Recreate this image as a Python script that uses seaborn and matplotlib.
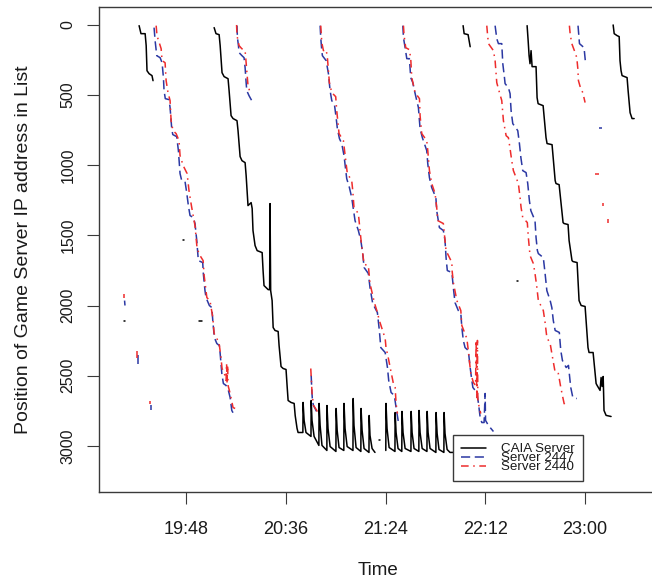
import matplotlib
matplotlib.use("Agg")
import matplotlib.pyplot as plt
from matplotlib.lines import Line2D
import pandas as pd
import seaborn as sns

# time = minutes after midnight, pos = position of the server IP in the list

# CAIA server (solid black)
caia_t1 = [1165.4, 1166.3, 1168.3, 1168.8, 1169.2, 1170.2, 1171.6, 1172.1]
caia_p1 = [5, 62, 62, 147, 326, 347, 361, 397]

caia_t2 = [1201.5, 1202.4, 1203.9, 1204.4, 1205.3, 1206.3, 1208.2, 1208.7, 1209.65, 1210.6,
           1212.5, 1213.0, 1214.0, 1214.9, 1216.4, 1216.9, 1217.8, 1219.3, 1219.8, 1220.2,
           1221.2, 1222.2, 1224.6, 1225.05, 1225.5, 1227.5, 1228.2, 1228.4, 1228.7, 1229.4,
           1229.9, 1230.8, 1232.3, 1232.75, 1233.7, 1234.7, 1236.1, 1236.6, 1237.1, 1238.5,
           1240.0, 1240.5, 1241.4, 1241.9, 1244.2,
           1244.3, 1244.8, 1245.7, 1248.1,
           1248.2, 1248.6, 1249.6, 1251.9,
           1252.0, 1252.5, 1253.4, 1255.75,
           1255.8, 1256.3, 1257.3, 1260.1,
           1260.2, 1260.7, 1261.6, 1263.9,
           1264.0, 1264.5, 1265.5, 1268.3,
           1268.4, 1268.8, 1269.8, 1272.1,
           1272.2, 1272.7, 1273.65, 1276.0,
           1276.1, 1276.5, 1277.5, 1278.9]
caia_p2 = [19, 62, 69, 147, 340, 368, 383, 468, 646, 667,
           682, 753, 938, 967, 981, 1073, 1287, 1266, 1308, 1465,
           1572, 1608, 1622, 1750, 1857, 1886, 1886, 1273, 1893, 1964,
           2156, 2177, 2184, 2284, 2434, 2448, 2455, 2569, 2676, 2690,
           2697, 2783, 2875, 2904, 2904,
           2690, 2818, 2904, 2932,
           2676, 2818, 2932, 2996,
           2697, 2854, 2996, 3032,
           2712, 2875, 3004, 3039,
           2733, 2889, 3011, 3032,
           2697, 2875, 3004, 3032,
           2662, 2854, 3011, 3039,
           2733, 2889, 3018, 3046,
           2783, 2925, 3018, 3046]

caia_t3 = [1284.1, 1284.2, 1284.7, 1285.7, 1288.5,
           1288.6, 1289.05, 1290.0, 1291.8,
           1291.9, 1292.4, 1293.4, 1296.2,
           1296.3, 1296.75, 1297.7, 1300.0,
           1300.1, 1300.6, 1301.6, 1303.9,
           1304.0, 1304.45, 1305.4, 1308.2,
           1308.3, 1308.8, 1309.7, 1312.05,
           1312.15, 1312.6, 1313.6, 1315.0, 1319.85]
caia_p3 = [3032, 2697, 2875, 3011, 3039,
           2762, 2904, 3018, 3039,
           2754, 2904, 3018, 3039,
           2754, 2904, 3018, 3039,
           2747, 2904, 3018, 3039,
           2754, 2904, 3018, 3046,
           2762, 2911, 3025, 3046,
           2762, 2911, 3025, 3046, 3046]

caia_t4 = [1321.3, 1321.8, 1323.7, 1324.7]
caia_p4 = [5, 62, 69, 155]

caia_t5 = [1352.1, 1352.6, 1353.05, 1353.5, 1354.0, 1354.5, 1356.4, 1356.9, 1357.4, 1359.8,
           1361.2, 1361.7, 1364.1, 1365.6, 1366.0, 1367.5, 1369.4, 1369.9, 1371.8, 1372.3,
           1373.7, 1374.2, 1376.15, 1377.1, 1378.1, 1380.0, 1381.4, 1381.9, 1383.85, 1385.3,
           1385.8, 1387.2, 1387.7, 1388.2, 1388.7, 1388.9, 1389.1, 1390.1, 1392.5]
caia_p5 = [5, 112, 219, 276, 183, 297, 297, 518, 561, 575,
           803, 845, 853, 1109, 1130, 1138, 1408, 1415, 1422, 1536,
           1679, 1686, 1693, 1964, 1999, 2006, 2299, 2334, 2334, 2555,
           2569, 2604, 2512, 2576, 2505, 2619, 2747, 2782, 2790]

caia_t6 = [1393.5, 1394.0, 1395.4, 1396.4, 1396.8, 1397.3, 1397.8, 1400.2, 1400.7, 1401.65, 1402.6, 1403.6]
caia_p6 = [0, 62, 76, 83, 254, 326, 361, 375, 468, 625, 667, 667]

caia_dots_t = [[1157.9, 1158.6], [1194.3, 1195.7], [1186.4, 1186.8], [1280.7, 1281.1], [1347.1, 1347.6]]
caia_dots_p = [[2106, 2106], [2113, 2113], [1529, 1529], [2954, 2954], [1821, 1821]]

# Server 2447 (blue dashed)
s47_tA = [1172.6, 1173.1, 1173.9, 1175.5, 1176.45, 1177.1, 1177.4, 1178.0, 1179.8, 1180.3,
          1181.1, 1181.6, 1183.5, 1184.3, 1185.1, 1185.9, 1187.5, 1188.3, 1189.1, 1189.9,
          1191.5, 1192.3, 1193.15, 1193.9, 1196.0, 1196.3, 1197.1, 1197.6, 1199.2, 1200.4,
          1200.85, 1201.6, 1202.8, 1204.0, 1204.4, 1205.2, 1205.95, 1207.25, 1208.35, 1209.2,
          1210.0, 1210.8]
s47_pA = [19, 112, 219, 233, 269, 375, 468, 525, 532, 589,
          739, 781, 796, 895, 1059, 1109, 1116, 1194, 1287, 1358,
          1373, 1415, 1536, 1679, 1693, 1771, 1893, 1943, 1999, 2014,
          2106, 2227, 2270, 2284, 2341, 2484, 2555, 2569, 2604, 2655,
          2747, 2769]
s47_tB = [1212.5, 1212.7, 1213.2, 1213.5, 1214.9, 1215.9, 1216.4, 1216.9, 1217.2, 1218.3, 1219.6]
s47_pB = [5, 90, 147, 197, 219, 233, 304, 411, 468, 504, 539]
s47_tC = [1252.5, 1252.8, 1253.3, 1253.6, 1255.4, 1256.5, 1257.3, 1258.1, 1259.4, 1260.2,
          1260.8, 1261.8, 1262.9, 1264.0, 1265.3, 1266.6, 1267.7, 1269.3, 1270.9, 1272.1,
          1273.0, 1273.65, 1275.7, 1276.5, 1277.8, 1280.05, 1281.0, 1281.7, 1283.8, 1284.9,
          1285.5, 1286.65, 1288.2, 1289.05, 1290.2, 1291.0]
s47_pC = [5, 90, 183, 219, 254, 347, 468, 539, 568, 660,
          739, 810, 845, 931, 1095, 1159, 1230, 1394, 1465, 1536,
          1629, 1728, 1771, 1871, 1985, 2049, 2177, 2299, 2334, 2441,
          2533, 2619, 2640, 2726, 2833, 2833]
s47_tD = [1292.3, 1292.6, 1293.4, 1294.2, 1295.45, 1296.1, 1297.1, 1297.9, 1299.0, 1299.8,
          1300.1, 1300.6, 1301.7, 1303.0, 1303.8, 1304.3, 1305.1, 1306.2, 1308.2, 1308.6,
          1309.9, 1311.8, 1312.6, 1313.1, 1313.7, 1315.9, 1316.6, 1317.4, 1319.0, 1320.2,
          1320.7, 1321.4, 1322.25, 1323.8, 1324.7, 1325.5, 1326.0, 1327.9, 1328.7, 1329.5,
          1330.3, 1331.4, 1331.9, 1332.1, 1333.5, 1335.9]
s47_pD = [5, 90, 162, 240, 240, 375, 411, 468, 539, 589,
          646, 739, 803, 860, 895, 988, 1088, 1159, 1230, 1323,
          1444, 1465, 1536, 1658, 1750, 1764, 1871, 1978, 2035, 2056,
          2156, 2248, 2299, 2320, 2441, 2533, 2583, 2619, 2697, 2796,
          2833, 2833, 2626, 2818, 2854, 2897]
s47_tE = [1336.7, 1337.2, 1337.5, 1338.3, 1339.9, 1340.4, 1341.2, 1341.5, 1343.1, 1343.9,
          1344.4, 1345.2, 1347.6, 1348.4, 1349.1, 1350.0, 1351.6, 1352.4, 1353.2, 1353.9,
          1355.9, 1356.4, 1357.05, 1357.5, 1359.9, 1360.75, 1361.6, 1363.2, 1364.0, 1364.7,
          1365.6, 1367.6, 1368.3, 1369.1, 1370.9, 1372.0, 1372.4, 1373.1, 1374.1, 1376.0]
s47_pE = [5, 62, 98, 133, 133, 276, 375, 418, 447, 489,
          611, 703, 753, 845, 945, 1038, 1052, 1130, 1252, 1323,
          1394, 1515, 1608, 1629, 1658, 1771, 1893, 1964, 2014, 2106,
          2177, 2191, 2320, 2391, 2441, 2426, 2484, 2583, 2655, 2662]
s47_tF = [1376.6, 1377.3, 1379.5, 1380.1]
s47_pF = [5, 133, 162, 254]
s47_frag_t = [[1248.2, 1248.5, 1248.8, 1249.3, 1250.1, 1251.0],
              [1158.4, 1158.6], [1164.75, 1164.75], [1171.0, 1171.0], [1386.6, 1388.0]]
s47_frag_p = [[2498, 2604, 2676, 2711, 2733, 2762],
              [1964, 1999], [2355, 2419], [2711, 2747], [731, 731]]

# Server 2440 (red dot-dash)
s40_tA = [1173.6, 1174.0, 1176.0, 1176.45, 1177.9, 1178.4, 1179.3, 1180.3, 1180.8, 1181.7,
          1183.2, 1184.6, 1185.1, 1186.6, 1188.5, 1189.4, 1190.4, 1191.4, 1192.3, 1193.3,
          1194.7, 1196.2, 1196.7, 1198.0, 1199.5, 1200.85, 1201.5, 1202.8, 1203.9, 1204.8,
          1205.3, 1206.3, 1207.25, 1207.5, 1207.7, 1208.0, 1208.2, 1209.2, 1210.6, 1211.6]
s40_pA = [5, 76, 169, 254, 269, 397, 482, 539, 682, 753,
          774, 824, 931, 1002, 1059, 1180, 1273, 1358, 1430, 1594,
          1643, 1679, 1786, 1943, 1964, 2085, 2199, 2234, 2270, 2370,
          2448, 2476, 2533, 2412, 2548, 2426, 2569, 2626, 2726, 2733]
s40_tB = [1212.3, 1212.5, 1213.5, 1214.8, 1216.4, 1216.9, 1217.4, 1217.8, 1218.8]
s40_pB = [0, 76, 147, 169, 183, 269, 361, 432, 482]
s40_tC = [1252.8, 1253.3, 1254.1, 1255.4, 1256.0, 1256.96, 1258.1, 1260.0, 1260.5, 1261.6,
          1263.7, 1265.0, 1265.6, 1267.7, 1268.2, 1268.8, 1270.9, 1272.2, 1273.65, 1275.7,
          1276.5, 1278.6, 1280.05, 1281.0, 1283.8, 1284.2, 1285.06, 1287.75, 1288.6, 1289.05,
          1289.7]
s40_pC = [5, 126, 183, 176, 233, 411, 482, 511, 611, 774,
          824, 988, 1059, 1109, 1180, 1301, 1344, 1536, 1706, 1714,
          1843, 1978, 2049, 2106, 2234, 2299, 2355, 2555, 2583, 2697,
          2769]
s40_tD = [1292.6, 1292.9, 1293.7, 1295.45, 1296.1, 1296.6, 1298.2, 1300.3, 1300.6, 1301.4,
          1303.8, 1304.3, 1305.1, 1306.2, 1307.8, 1308.6, 1309.1, 1311.8, 1312.6, 1313.1,
          1315.9, 1316.0, 1316.6, 1318.3, 1320.2, 1320.7, 1323.1, 1323.8, 1324.3, 1325.0,
          1326.25, 1327.3, 1327.55, 1327.9, 1328.2, 1328.4, 1329.1, 1329.8]
s40_pD = [5, 76, 162, 176, 240, 375, 482, 525, 646, 774,
          824, 895, 1038, 1130, 1201, 1301, 1394, 1415, 1536, 1608,
          1693, 1750, 1835, 1964, 2035, 2142, 2234, 2320, 2391, 2484,
          2548, 2569, 2248, 2655, 2248, 2676, 2726, 2769]
s40_tE = [1332.7, 1333.1, 1333.5, 1335.9, 1336.7, 1337.5, 1338.8, 1339.9, 1340.7, 1342.0,
          1343.1, 1343.9, 1344.7, 1345.5, 1347.9, 1348.7, 1349.2, 1350.0, 1352.2, 1352.7,
          1353.5, 1355.1, 1355.9, 1356.8, 1357.5, 1359.9, 1360.75, 1361.6, 1363.2, 1364.0,
          1365.6, 1367.15, 1368.3, 1369.3, 1369.9, 1371.2]
s40_pE = [5, 76, 133, 183, 254, 411, 482, 539, 682, 789,
          803, 881, 967, 1038, 1130, 1230, 1301, 1373, 1408, 1515,
          1643, 1700, 1771, 1871, 1964, 2035, 2120, 2227, 2270, 2341,
          2476, 2484, 2583, 2655, 2697, 2726]
s40_tF = [1372.45, 1372.8, 1373.6, 1375.2, 1376.0, 1376.5, 1376.8, 1377.9, 1378.9, 1380.0]
s40_pF = [5, 62, 133, 197, 233, 311, 397, 454, 482, 553]
s40_frag_t = [[1248.0, 1248.3, 1248.6, 1249.3, 1250.9, 1251.5],
              [1158.2, 1158.2], [1164.6, 1164.6], [1170.7, 1170.7],
              [1384.8, 1386.7], [1388.8, 1388.8], [1391.2, 1391.2]]
s40_frag_p = [[2448, 2533, 2619, 2711, 2747, 2769],
              [1914, 1949], [2320, 2376], [2676, 2704],
              [1059, 1059], [1266, 1287], [1380, 1408]]

tick_times = [1188, 1236, 1284, 1332, 1380]
tick_labels = ["19:48", "20:36", "21:24", "22:12", "23:00"]
pos_ticks = [0, 500, 1000, 1500, 2000, 2500, 3000]
series_names = ["CAIA Server", "Server 2447", "Server 2440"]

BLUE = "#2b38a3"
RED = "#ee2c2c"


def segments_frame(t_lists, p_lists):
    rows = []
    for k, (ts, ps) in enumerate(zip(t_lists, p_lists)):
        for t, p in zip(ts, ps):
            rows.append((k, t, p))
    return pd.DataFrame(rows, columns=["seg", "time", "pos"])


caia_df = segments_frame([caia_t1, caia_t2, caia_t3, caia_t4, caia_t5, caia_t6] + caia_dots_t,
                         [caia_p1, caia_p2, caia_p3, caia_p4, caia_p5, caia_p6] + caia_dots_p)
s47_df = segments_frame([s47_tA, s47_tB, s47_tC, s47_tD, s47_tE, s47_tF] + s47_frag_t,
                        [s47_pA, s47_pB, s47_pC, s47_pD, s47_pE, s47_pF] + s47_frag_p)
s40_df = segments_frame([s40_tA, s40_tB, s40_tC, s40_tD, s40_tE, s40_tF] + s40_frag_t,
                        [s40_pA, s40_pB, s40_pC, s40_pD, s40_pE, s40_pF] + s40_frag_p)

sns.set_style("ticks")
plt.rcParams["font.family"] = ["Liberation Sans", "DejaVu Sans"]

fig = plt.figure(figsize=(6.52, 5.85), dpi=100)
ax = fig.add_axes([99 / 652, 1 - 492 / 585, 558 / 652, 485 / 585])

line_kw = dict(x="time", y="pos", units="seg", estimator=None, sort=False, legend=False, ax=ax)
sns.lineplot(data=caia_df, color="black", linewidth=1.1, **line_kw)
sns.lineplot(data=s47_df, color=BLUE, linewidth=1.1, linestyle=(0, (6, 3)), **line_kw)
sns.lineplot(data=s40_df, color=RED, linewidth=1.1, linestyle=(0, (5, 3, 1, 3)), **line_kw)

ax.set_xlim(1146.1, 1414.6)
ax.set_ylim(3328, -128)
ax.set_xticks(tick_times)
ax.set_xticklabels(tick_labels)
ax.set_yticks(pos_ticks)
ax.set_yticklabels([str(v) for v in pos_ticks], rotation=90, va="center")

for side in ["left", "right", "top", "bottom"]:
    ax.spines[side].set_visible(True)
    ax.spines[side].set_color("#3a3a3a")
    ax.spines[side].set_linewidth(1.0)

ax.tick_params(axis="both", direction="out", length=8.6, width=0.8, color="#3a3a3a",
               labelcolor="#1a1a1a")
ax.tick_params(axis="x", labelsize=13, pad=12)
ax.tick_params(axis="y", labelsize=11.5, pad=8.5)

ax.set_xlabel("Time", fontsize=13.5, color="#1a1a1a")
ax.set_ylabel("Position of Game Server IP address in List", fontsize=14, color="#1a1a1a")
ax.xaxis.set_label_coords(0.5, -0.144)
ax.yaxis.set_label_coords(-0.12, 0.5)

handles = [Line2D([], [], color="black", linewidth=1.1),
           Line2D([], [], color=BLUE, linewidth=1.1, linestyle=(0, (6, 3))),
           Line2D([], [], color=RED, linewidth=1.1, linestyle=(0, (5, 3, 1, 3)))]
leg = ax.legend(handles, series_names, loc="upper left",
                bbox_to_anchor=(354 / 558, 57 / 485), borderaxespad=0,
                frameon=True, fancybox=False, framealpha=1, facecolor="white",
                edgecolor="#3a3a3a", fontsize=9.6, labelspacing=-0.25,
                handlelength=1.9, handletextpad=1.1, borderpad=0.6)
leg.get_frame().set_linewidth(1.0)
for txt in leg.get_texts():
    txt.set_color("#1a1a1a")

fig.savefig("out.png", dpi=100)
